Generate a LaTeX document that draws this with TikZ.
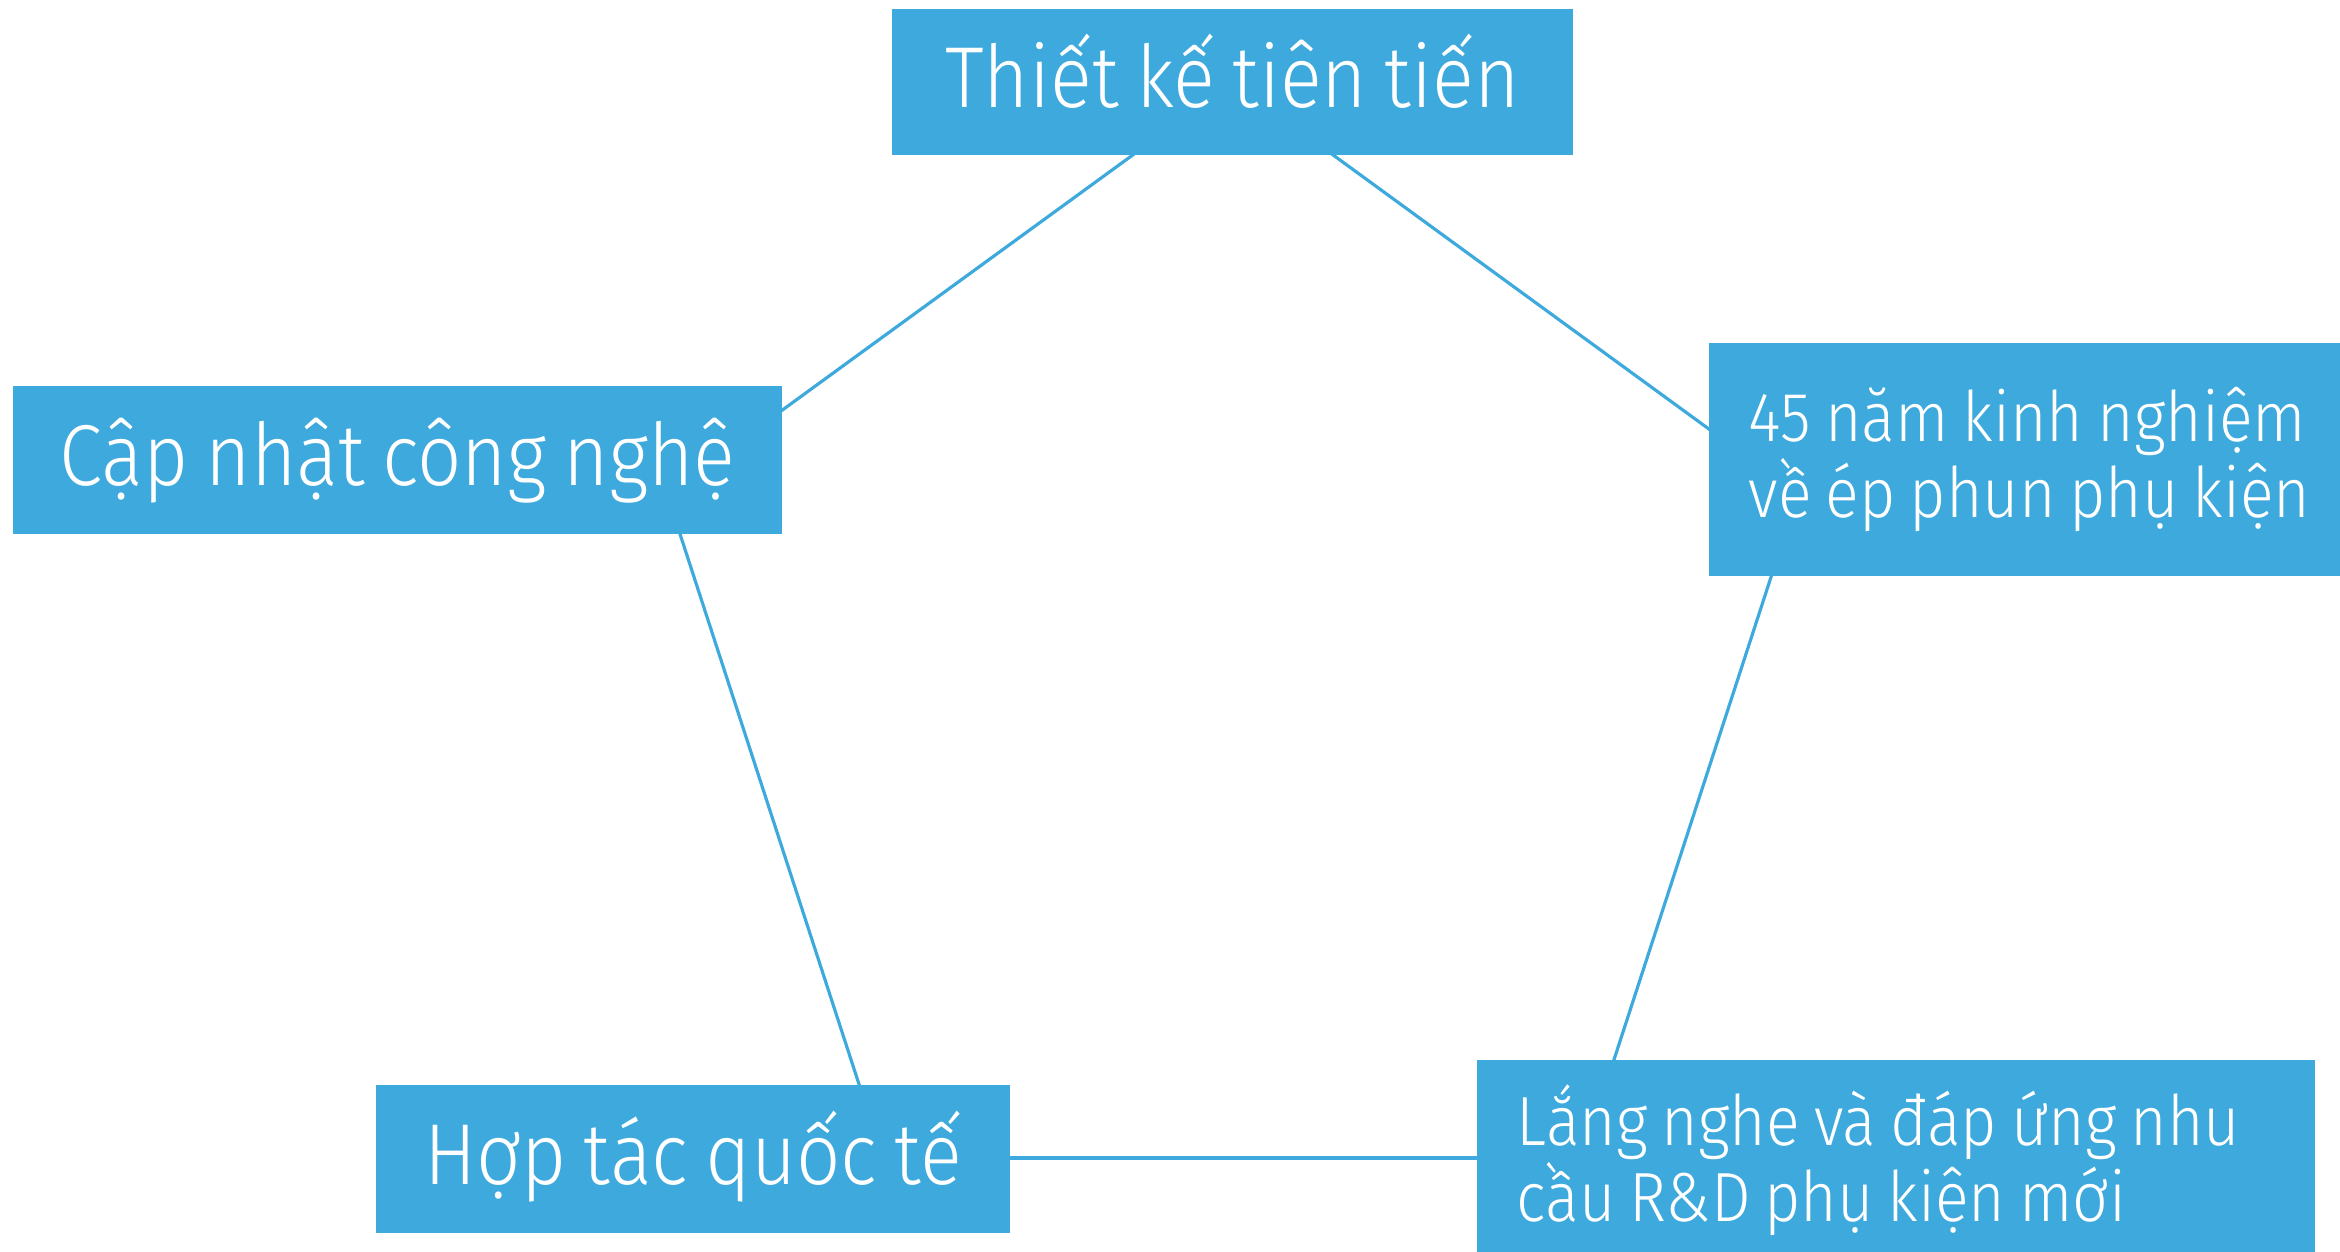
\documentclass[tikz,border=0pt]{standalone}
\usepackage{fontspec}
\setmainfont{Fira Sans Light}[FakeStretch=0.9,WordSpace=0.8]
\definecolor{boxblue}{HTML}{3EA9DD}
\begin{document}
\begin{tikzpicture}[x=0.01cm,y=-0.01cm,
  link/.style={draw=boxblue,line width=0.9pt},
  box/.style={fill=boxblue,text=white,inner sep=0pt},
  onebox/.style={box,align=center,text height=17pt,text depth=2.5pt,font=\fontsize{24.6}{28}\selectfont},
  twobox/.style={box,align=left,inner xsep=0.4cm,font=\fontsize{19.8}{21.6}\selectfont,
    execute at begin node={\spaceskip=0pt\xspaceskip=0pt\relax}}]
\useasboundingbox (0,0) rectangle (2340,1251);
\coordinate (v1) at (1233,82);
\coordinate (v2) at (1798,494);
\coordinate (v3) at (1582,1158);
\coordinate (v4) at (883,1158);
\coordinate (v5) at (667,494);
\draw[link] (v1) -- (v2);
\draw[link] (v2) -- (v3);
\draw[link] (v3) -- (v4);
\draw[link] (v4) -- (v5);
\draw[link] (v5) -- (v1);
\node[onebox,minimum width=6.81cm,minimum height=1.46cm] (top) at (1232.5,82) {Thiết kế tiên tiến};
\node[onebox,minimum width=7.69cm,minimum height=1.48cm] (left) at (397.5,460) {Cập nhật công nghệ};
\node[onebox,minimum width=6.34cm,minimum height=1.48cm] (bl) at (693,1159) {Hợp tác quốc tế};
\node[twobox,text width=5.9cm,minimum height=2.33cm] (right) at (2044,459.5) {45 năm kinh nghiệm\\về ép phun phụ kiện};
\node[twobox,text width=7.58cm,minimum height=2.0cm] (br) at (1896,1160) {Lắng nghe và đáp ứng nhu\\cầu R\&D phụ kiện mới};
\end{tikzpicture}
\end{document}
